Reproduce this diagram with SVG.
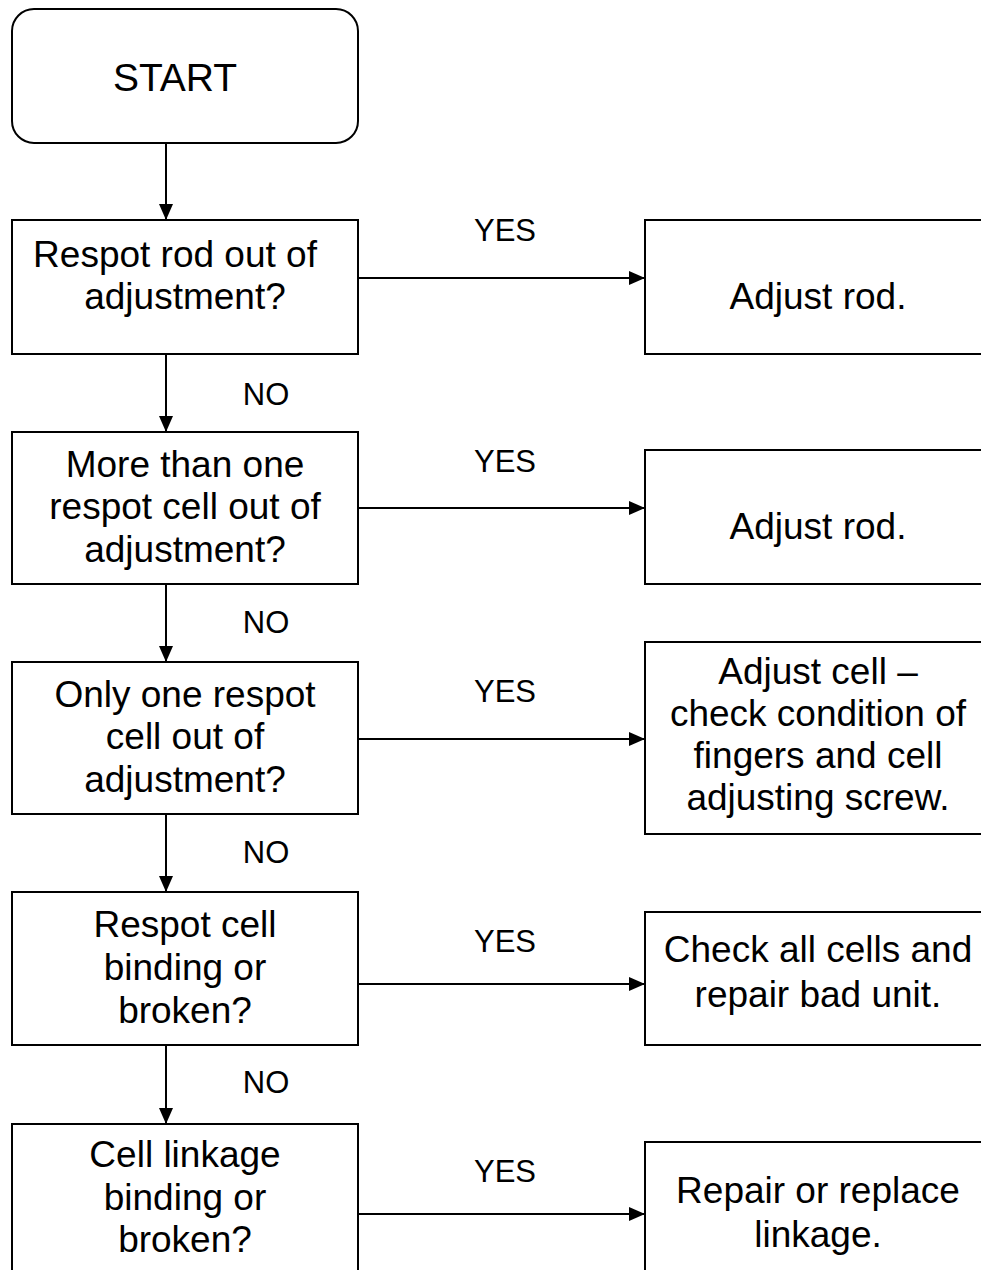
<svg xmlns="http://www.w3.org/2000/svg" width="981" height="1270" viewBox="0 0 981 1270">
<style>
.box{fill:#fff;stroke:#000;stroke-width:2}
.t{font-family:"Liberation Sans",Arial,sans-serif;font-size:37px;fill:#000;text-anchor:middle}
.l{font-family:"Liberation Sans",Arial,sans-serif;font-size:31px;fill:#000;text-anchor:middle}
.c{stroke:#000;stroke-width:2;fill:none;marker-end:url(#ah)}
</style>
<defs>
<marker id="ah" markerWidth="16" markerHeight="14" refX="16" refY="7" orient="auto" markerUnits="userSpaceOnUse">
<path d="M0,0 L16,7 L0,14 Z" fill="#000"/>
</marker>
</defs>
<rect width="981" height="1270" fill="#fff"/>
<g id="connectors">
<line class="c" x1="166" y1="143" x2="166" y2="220"/>
<line class="c" x1="166" y1="354" x2="166" y2="432"/>
<line class="c" x1="166" y1="584" x2="166" y2="662"/>
<line class="c" x1="166" y1="814" x2="166" y2="892"/>
<line class="c" x1="166" y1="1045" x2="166" y2="1124"/>
<line class="c" x1="358" y1="278" x2="645" y2="278"/>
<line class="c" x1="358" y1="508" x2="645" y2="508"/>
<line class="c" x1="358" y1="739" x2="645" y2="739"/>
<line class="c" x1="358" y1="984" x2="645" y2="984"/>
<line class="c" x1="358" y1="1214" x2="645" y2="1214"/>
<text class="l" x="505" y="241">YES</text>
<text class="l" x="505" y="472">YES</text>
<text class="l" x="505" y="702">YES</text>
<text class="l" x="505" y="952">YES</text>
<text class="l" x="505" y="1182">YES</text>
<text class="l" x="266" y="405">NO</text>
<text class="l" x="266" y="633">NO</text>
<text class="l" x="266" y="863">NO</text>
<text class="l" x="266" y="1093">NO</text>
</g>
<g id="start">
<rect class="box" x="12" y="9" width="346" height="134" rx="22" ry="22"/>
<text class="t" x="175" y="91" style="font-size:39px">START</text>
</g>
<g id="q1">
<rect class="box" x="12" y="220" width="346" height="134"/>
<text class="t" x="175" y="267">Respot rod out of</text>
<text class="t" x="185" y="309">adjustment?</text>
</g>
<g id="q2">
<rect class="box" x="12" y="432" width="346" height="152"/>
<text class="t" x="185" y="477">More than one</text>
<text class="t" x="185" y="519">respot cell out of</text>
<text class="t" x="185" y="562">adjustment?</text>
</g>
<g id="q3">
<rect class="box" x="12" y="662" width="346" height="152"/>
<text class="t" x="185" y="707">Only one respot</text>
<text class="t" x="185" y="749">cell out of</text>
<text class="t" x="185" y="792">adjustment?</text>
</g>
<g id="q4">
<rect class="box" x="12" y="892" width="346" height="153"/>
<text class="t" x="185" y="937">Respot cell</text>
<text class="t" x="185" y="980">binding or</text>
<text class="t" x="185" y="1023">broken?</text>
</g>
<g id="q5">
<rect class="box" x="12" y="1124" width="346" height="160"/>
<text class="t" x="185" y="1167">Cell linkage</text>
<text class="t" x="185" y="1210">binding or</text>
<text class="t" x="185" y="1252">broken?</text>
</g>
<g id="a1">
<rect class="box" x="645" y="220" width="346" height="134"/>
<text class="t" x="818" y="309">Adjust rod.</text>
</g>
<g id="a2">
<rect class="box" x="645" y="450" width="346" height="134"/>
<text class="t" x="818" y="539">Adjust rod.</text>
</g>
<g id="a3">
<rect class="box" x="645" y="642" width="346" height="192"/>
<text class="t" x="818" y="684">Adjust cell –</text>
<text class="t" x="818" y="726">check condition of</text>
<text class="t" x="818" y="768">fingers and cell</text>
<text class="t" x="818" y="810">adjusting screw.</text>
</g>
<g id="a4">
<rect class="box" x="645" y="912" width="346" height="133"/>
<text class="t" x="818" y="962">Check all cells and</text>
<text class="t" x="818" y="1007">repair bad unit.</text>
</g>
<g id="a5">
<rect class="box" x="645" y="1142" width="346" height="160"/>
<text class="t" x="818" y="1203">Repair or replace</text>
<text class="t" x="818" y="1247">linkage.</text>
</g>
</svg>
